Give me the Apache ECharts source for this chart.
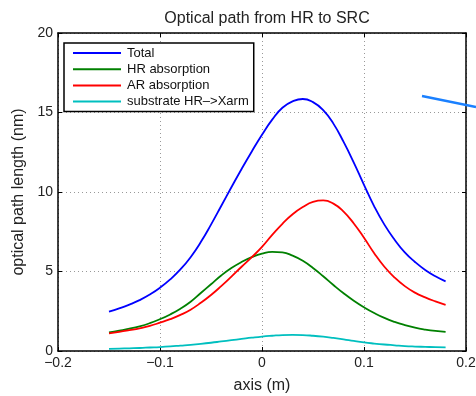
<!DOCTYPE html>
<html>
<head>
<meta charset="utf-8">
<script src="https://cdn.jsdelivr.net/npm/echarts@6/dist/echarts.min.js"></script>
<style>
  html, body { margin: 0; padding: 0; background: #fff; }
  #chart { width: 476px; height: 396px; }
</style>
</head>
<body>
<div id="chart"></div>
<script>
// positions along the axis (m)
const axisPos = [-0.15, -0.14, -0.13, -0.12, -0.11, -0.10, -0.09, -0.08, -0.07, -0.06,
  -0.05, -0.04, -0.03, -0.02, -0.01, 0.00, 0.01, 0.02, 0.03, 0.04, 0.05, 0.06, 0.07,
  0.08, 0.09, 0.10, 0.11, 0.12, 0.13, 0.14, 0.15, 0.16, 0.17, 0.18];

// optical path length (nm)
const total = [2.47, 2.68, 2.92, 3.2, 3.55, 3.98, 4.5, 5.13, 5.9, 6.85,
  7.95, 9.12, 10.3, 11.45, 12.55, 13.6, 14.55, 15.3, 15.7, 15.85, 15.65, 15.15, 14.3,
  13.15, 11.85, 10.45, 9.1, 7.95, 7.0, 6.2, 5.6, 5.1, 4.7, 4.38];
const hrAbs = [1.17, 1.28, 1.4, 1.55, 1.75, 2.0, 2.3, 2.66, 3.1, 3.65,
  4.2, 4.75, 5.22, 5.6, 5.9, 6.12, 6.23, 6.2, 6.0, 5.67, 5.22, 4.7, 4.15,
  3.63, 3.16, 2.75, 2.39, 2.08, 1.83, 1.63, 1.47, 1.35, 1.26, 1.2];
const arAbs = [1.11, 1.2, 1.31, 1.43, 1.58, 1.78, 2.0, 2.27, 2.6, 3.03,
  3.52, 4.08, 4.68, 5.3, 5.9, 6.55, 7.3, 8.0, 8.6, 9.05, 9.38, 9.47, 9.27,
  8.77, 8.02, 7.12, 6.15, 5.3, 4.62, 4.08, 3.67, 3.37, 3.12, 2.9];
const substrate = [0.13, 0.15, 0.17, 0.19, 0.22, 0.25, 0.29, 0.34, 0.39, 0.45,
  0.52, 0.6, 0.68, 0.76, 0.84, 0.91, 0.96, 1.0, 1.01, 1.0, 0.96, 0.9, 0.82,
  0.73, 0.63, 0.54, 0.47, 0.41, 0.36, 0.31, 0.28, 0.26, 0.24, 0.23];

const seriesNames = ['Total', 'HR absorption', 'AR absorption', 'substrate HR–>Xarm'];
const seriesColors = ['#0000ff', '#008000', '#ff0000', '#00bfbf'];
const seriesData = [total, hrAbs, arAbs, substrate];

const font = 'Liberation Sans, Arial, Helvetica, sans-serif';

const fmtX = v => Math.abs(v) < 1e-9 ? '0' : v.toFixed(1).replace('-', '−');

const chart = echarts.init(document.getElementById('chart'));

const xBase = {
  type: 'value', min: -0.2, max: 0.2, interval: 0.1,
  axisLine: { show: true, onZero: false, lineStyle: { color: '#000', width: 1.5 } },
  axisTick: { show: true, inside: true, length: 4, lineStyle: { color: '#000' } },
  splitLine: { show: false }
};
const yBase = {
  type: 'value', min: 0, max: 20, interval: 5,
  axisLine: { show: true, onZero: false, lineStyle: { color: '#000', width: 1.5 } },
  axisTick: { show: true, inside: true, length: 4, lineStyle: { color: '#000' } },
  splitLine: { show: false }
};

chart.setOption({
  animation: false,
  backgroundColor: '#fff',
  textStyle: { fontFamily: font },
  title: {
    text: 'Optical path from HR to SRC',
    left: 262, top: 6, textAlign: 'center',
    textStyle: { fontFamily: font, fontSize: 16, fontWeight: 'normal', color: '#222' }
  },
  grid: { left: 58, right: 10, top: 33, bottom: 45, outerBoundsMode: 'none' },
  legend: {
    data: seriesNames,
    orient: 'vertical',
    left: 64, top: 43,
    icon: 'rect',
    itemWidth: 48, itemHeight: 2, itemGap: 2.2,
    padding: [3, 5, 3, 9],
    borderColor: '#000', borderWidth: 1.5,
    backgroundColor: '#fff',
    textStyle: { fontFamily: font, fontSize: 13, lineHeight: 14, color: '#111', padding: [0, 0, 0, 1] }
  },
  xAxis: [
    Object.assign({}, xBase, {
      position: 'bottom',
      name: 'axis (m)', nameLocation: 'middle', nameGap: 27,
      nameTextStyle: { fontFamily: font, fontSize: 16, color: '#222' },
      axisLabel: { fontFamily: font, fontSize: 14, color: '#222', margin: 5, formatter: fmtX },
      splitLine: { show: true, lineStyle: { color: '#999', type: [1, 3], width: 1 } }
    }),
    Object.assign({}, xBase, { position: 'top', axisLabel: { show: false } })
  ],
  yAxis: [
    Object.assign({}, yBase, {
      position: 'left',
      name: 'optical path length (nm)', nameLocation: 'middle', nameGap: 28,
      nameTextStyle: { fontFamily: font, fontSize: 16, color: '#222' },
      axisLabel: { fontFamily: font, fontSize: 14, color: '#222', margin: 5 },
      splitLine: { show: true, lineStyle: { color: '#999', type: [1, 3], width: 1 } }
    }),
    Object.assign({}, yBase, { position: 'right', axisLabel: { show: false } })
  ],
  series: seriesNames.map((name, i) => ({
    name: name,
    type: 'line',
    smooth: true,
    symbol: 'none',
    data: axisPos.map((x, j) => [x, seriesData[i][j]]),
    lineStyle: { color: seriesColors[i], width: 1.8 },
    itemStyle: { color: seriesColors[i] }
  })),
  graphic: [{
    type: 'line',
    shape: { x1: 422, y1: 96, x2: 476, y2: 107 },
    style: { stroke: '#1a80ff', lineWidth: 2.5 },
    z: 10
  }]
});
</script>
</body>
</html>
